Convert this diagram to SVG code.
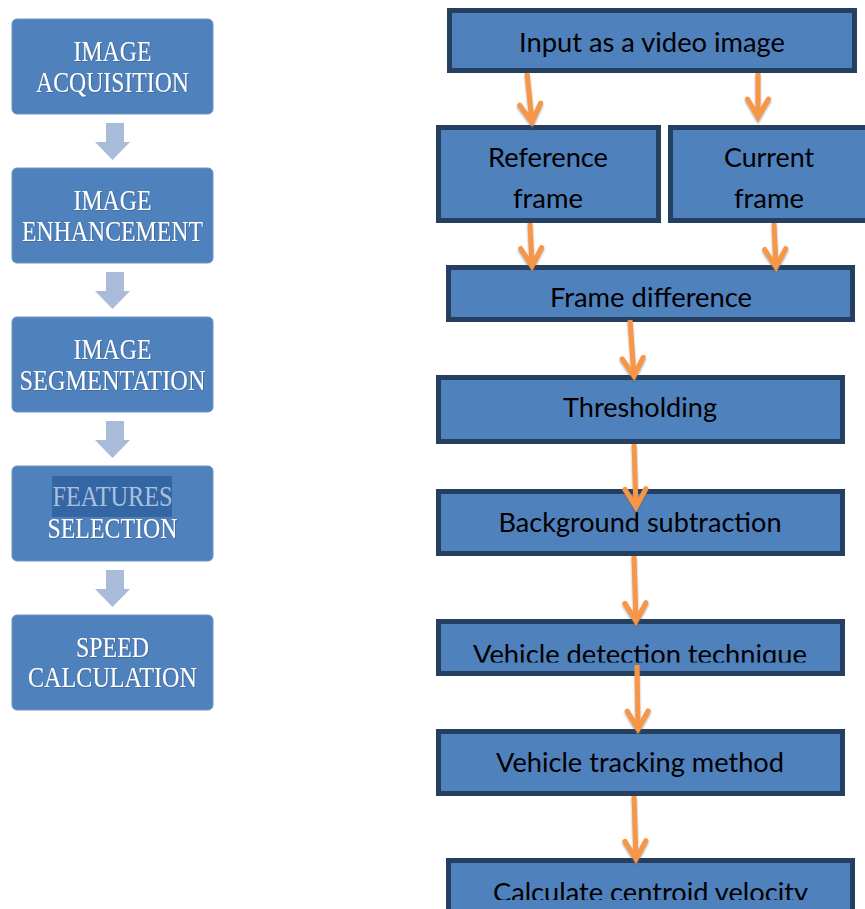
<svg xmlns="http://www.w3.org/2000/svg" width="865" height="909" viewBox="0 0 865 909">
<style>
.lbox{fill:#4f81bd;stroke:#6d94c6;stroke-width:1}
.ltxt{font-family:"Liberation Serif","Times New Roman",serif;font-size:30px;fill:#ffffff;text-anchor:middle}
.larr{fill:#aabbd9}
.rbox{fill:#4f81bd;stroke:#243f60;stroke-width:5}
.rtxt{font-family:Lato,"Liberation Sans",sans-serif;font-size:26.5px;fill:#000000;text-anchor:middle}
.conn{fill:none;stroke:#f79646;stroke-width:5}
</style>
<defs>
<marker id="ah" markerUnits="userSpaceOnUse" markerWidth="30" markerHeight="30" refX="2" refY="12" orient="auto" viewBox="0 0 30 30" overflow="visible">
<path d="M-16,1.5 L2,12 L-16,22.5" fill="none" stroke="#f79646" stroke-width="5" stroke-linejoin="miter" stroke-linecap="round"/>
</marker>
<filter id="sh" x="-20%" y="-20%" width="140%" height="140%">
<feDropShadow dx="0" dy="2" stdDeviation="1" flood-color="#606060" flood-opacity="0.55"/>
</filter>
<filter id="tsh" x="-10%" y="-20%" width="120%" height="140%">
<feDropShadow dx="0.5" dy="0.5" stdDeviation="0.6" flood-color="#1f3a60" flood-opacity="0.6"/>
</filter>
<clipPath id="clipDet"><rect x="430" y="600" width="435" height="62.5"/></clipPath>
<clipPath id="clipCalc"><rect x="430" y="850" width="435" height="50"/></clipPath>
</defs>
<rect width="865" height="909" fill="#ffffff"/>

<!-- Left flow -->
<g id="acquisition">
<rect class="lbox" x="12" y="19" width="201" height="95" rx="5"/>
<text class="ltxt" x="112.5" y="61" textLength="78" lengthAdjust="spacingAndGlyphs" filter="url(#tsh)">IMAGE</text>
<text class="ltxt" x="112.5" y="92" textLength="153" lengthAdjust="spacingAndGlyphs" filter="url(#tsh)">ACQUISITION</text>
</g>
<g id="enhancement">
<rect class="lbox" x="12" y="168" width="201" height="95" rx="5"/>
<text class="ltxt" x="112.5" y="210" textLength="78" lengthAdjust="spacingAndGlyphs" filter="url(#tsh)">IMAGE</text>
<text class="ltxt" x="112.5" y="241" textLength="181" lengthAdjust="spacingAndGlyphs" filter="url(#tsh)">ENHANCEMENT</text>
</g>
<g id="segmentation">
<rect class="lbox" x="12" y="317" width="201" height="95" rx="5"/>
<text class="ltxt" x="112.5" y="359" textLength="78" lengthAdjust="spacingAndGlyphs" filter="url(#tsh)">IMAGE</text>
<text class="ltxt" x="112.5" y="390" textLength="186" lengthAdjust="spacingAndGlyphs" filter="url(#tsh)">SEGMENTATION</text>
</g>
<g id="features">
<rect class="lbox" x="12" y="466" width="201" height="95" rx="5"/>
<rect x="52" y="476" width="120" height="41" fill="#3466a4"/>
<text class="ltxt" x="112.5" y="506" textLength="120" lengthAdjust="spacingAndGlyphs" style="fill:#a9c1de">FEATURES</text>
<text class="ltxt" x="112.5" y="538" textLength="130" lengthAdjust="spacingAndGlyphs" filter="url(#tsh)">SELECTION</text>
</g>
<g id="speed">
<rect class="lbox" x="12" y="615" width="201" height="95" rx="5"/>
<text class="ltxt" x="112.5" y="657" textLength="73" lengthAdjust="spacingAndGlyphs" filter="url(#tsh)">SPEED</text>
<text class="ltxt" x="112.5" y="687" textLength="169" lengthAdjust="spacingAndGlyphs" filter="url(#tsh)">CALCULATION</text>
</g>
<g id="left-connectors">
<path class="larr" d="M106,123 H124 V142 H130 L112.5,160 L95,142 H106 Z"/>
<path class="larr" d="M106,272 H124 V291 H130 L112.5,309 L95,291 H106 Z"/>
<path class="larr" d="M106,421 H124 V440 H130 L112.5,458 L95,440 H106 Z"/>
<path class="larr" d="M106,570 H124 V589 H130 L112.5,607 L95,589 H106 Z"/>
</g>

<!-- Right flow -->
<g id="input">
<rect class="rbox" x="449.5" y="10.5" width="405" height="60"/>
<text class="rtxt" x="652" y="52" textLength="266" lengthAdjust="spacingAndGlyphs">Input as a video image</text>
</g>
<g id="reference">
<rect class="rbox" x="438.5" y="127.5" width="220" height="93"/>
<text class="rtxt" x="548" y="167" textLength="120" lengthAdjust="spacingAndGlyphs">Reference</text>
<text class="rtxt" x="548" y="208" textLength="70" lengthAdjust="spacingAndGlyphs">frame</text>
</g>
<g id="current">
<rect class="rbox" x="670.5" y="127.5" width="220" height="93"/>
<text class="rtxt" x="769" y="167" textLength="90" lengthAdjust="spacingAndGlyphs">Current</text>
<text class="rtxt" x="769" y="208" textLength="70" lengthAdjust="spacingAndGlyphs">frame</text>
</g>
<g id="framediff">
<rect class="rbox" x="448.5" y="267.5" width="404" height="52"/>
<text class="rtxt" x="651" y="307" textLength="202" lengthAdjust="spacingAndGlyphs">Frame difference</text>
</g>
<g id="thresholding">
<rect class="rbox" x="438.5" y="377.5" width="404" height="64"/>
<text class="rtxt" x="640" y="417" textLength="154" lengthAdjust="spacingAndGlyphs">Thresholding</text>
</g>
<g id="background">
<rect class="rbox" x="438.5" y="491.5" width="404" height="62"/>
<text class="rtxt" x="640" y="532" textLength="283" lengthAdjust="spacingAndGlyphs">Background subtraction</text>
</g>
<g id="detection">
<rect class="rbox" x="438.5" y="621.5" width="404" height="52"/>
<text class="rtxt" x="640" y="664" textLength="334" lengthAdjust="spacingAndGlyphs" clip-path="url(#clipDet)">Vehicle detection technique</text>
</g>
<g id="tracking">
<rect class="rbox" x="438.5" y="731.5" width="404" height="62"/>
<text class="rtxt" x="640" y="772" textLength="288" lengthAdjust="spacingAndGlyphs">Vehicle tracking method</text>
</g>
<g id="centroid">
<rect class="rbox" x="448.5" y="860.5" width="404" height="80"/>
<text class="rtxt" x="650.5" y="902" textLength="315" lengthAdjust="spacingAndGlyphs" clip-path="url(#clipCalc)">Calculate centroid velocity</text>
</g>

<g id="connectors" filter="url(#sh)">
<line class="conn" x1="527" y1="73" x2="532" y2="122" marker-end="url(#ah)"/>
<line class="conn" x1="758" y1="73" x2="758" y2="117" marker-end="url(#ah)"/>
<line class="conn" x1="530" y1="223" x2="532" y2="266" marker-end="url(#ah)"/>
<line class="conn" x1="774" y1="223" x2="776" y2="267" marker-end="url(#ah)"/>
<line class="conn" x1="630" y1="320" x2="634" y2="376" marker-end="url(#ah)"/>
<line class="conn" x1="634" y1="444" x2="636" y2="507" marker-end="url(#ah)"/>
<line class="conn" x1="634" y1="556" x2="636" y2="621" marker-end="url(#ah)"/>
<line class="conn" x1="637" y1="665" x2="638" y2="729" marker-end="url(#ah)"/>
<line class="conn" x1="634" y1="796" x2="636" y2="859" marker-end="url(#ah)"/>
</g>
</svg>
